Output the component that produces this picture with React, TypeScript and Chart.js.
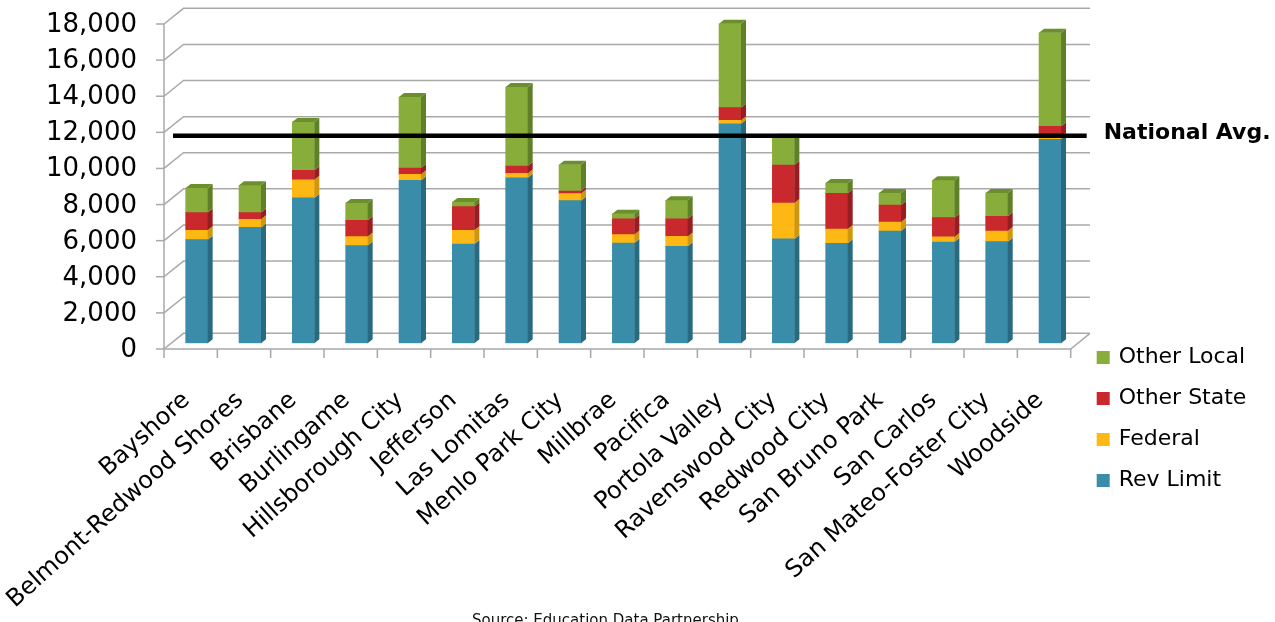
import React, { useEffect, useRef } from "react";
import { Chart, registerables } from "chart.js";

Chart.register(...registerables);

const DISTRICTS = [
  "Bayshore",
  "Belmont-Redwood Shores",
  "Brisbane",
  "Burlingame",
  "Hillsborough City",
  "Jefferson",
  "Las Lomitas",
  "Menlo Park City",
  "Millbrae",
  "Pacifica",
  "Portola Valley",
  "Ravenswood City",
  "Redwood City",
  "San Bruno Park",
  "San Carlos",
  "San Mateo-Foster City",
  "Woodside",
];

const REV_LIMIT = [5740, 6420, 8050, 5410, 9030, 5500, 9170, 7900, 5550, 5370, 12160, 5780, 5540, 6220, 5610, 5630, 11300];
const FEDERAL = [520, 450, 1010, 500, 330, 760, 240, 390, 470, 550, 190, 1990, 790, 500, 280, 590, 150];
const OTHER_STATE = [980, 370, 520, 900, 350, 1310, 410, 140, 880, 980, 700, 2100, 1980, 940, 1070, 810, 570];
const OTHER_LOCAL = [1360, 1510, 2670, 960, 3930, 250, 4370, 1460, 280, 1020, 4650, 1520, 570, 660, 2070, 1290, 5180];

const NATIONAL_AVG = 11500;
const NATIONAL_AVG_LABEL = "National Avg.";
const SOURCE_TEXT = "Source: Education Data Partnership";

const Y_MIN = 0;
const Y_MAX = 18000;
const Y_STEP = 2000;

const FONT = "'DejaVu Sans', sans-serif";
const GRID_COLOR = "#a9a9a9";
const DX = 5;
const DY = -4;

const SERIES = [
  { label: "Rev Limit", data: REV_LIMIT, color: "#3a8da9", side: "#296a80", top: "#2f7a92" },
  { label: "Federal", data: FEDERAL, color: "#fdb813", side: "#d0960c", top: "#e0a510" },
  { label: "Other State", data: OTHER_STATE, color: "#c9282d", side: "#981d21", top: "#ad2227" },
  { label: "Other Local", data: OTHER_LOCAL, color: "#89ad3b", side: "#5f8027", top: "#6c8f2e" },
];

const walls3d = {
  id: "walls3d",
  beforeDatasetsDraw(chart: any) {
    const { ctx, chartArea, scales } = chart;
    const y = scales.y;
    const n = chart.data.labels.length;
    const cat = (chartArea.right - chartArea.left) / n;
    const frontX0 = chartArea.left - 6;
    const frontX1 = chartArea.right - 6;
    const backX0 = chartArea.left + 13.5;
    const backX1 = chartArea.right + 13.3;
    const fOff = 5.7;
    const bOff = -10;
    ctx.save();
    ctx.strokeStyle = GRID_COLOR;
    ctx.lineWidth = 1.5;
    for (let v = Y_MIN; v <= Y_MAX; v += Y_STEP) {
      const yp = y.getPixelForValue(v);
      ctx.beginPath();
      ctx.moveTo(frontX0, yp + fOff);
      ctx.lineTo(backX0, yp + bOff);
      ctx.lineTo(backX1, yp + bOff);
      ctx.stroke();
      ctx.beginPath();
      ctx.moveTo(frontX0 - 8, yp + fOff);
      ctx.lineTo(frontX0, yp + fOff);
      ctx.stroke();
    }
    const yTop = y.getPixelForValue(Y_MAX) + fOff;
    const y0 = y.getPixelForValue(0) + fOff;
    const yb0 = y.getPixelForValue(0) + bOff;
    ctx.beginPath();
    ctx.moveTo(frontX0, yTop);
    ctx.lineTo(frontX0, y0 + 9);
    ctx.stroke();
    ctx.beginPath();
    ctx.moveTo(frontX0, y0);
    ctx.lineTo(frontX1, y0);
    ctx.lineTo(backX1, yb0);
    ctx.stroke();
    for (let i = 1; i <= n; i++) {
      const xp = frontX0 + i * cat;
      ctx.beginPath();
      ctx.moveTo(xp, y0);
      ctx.lineTo(xp, y0 + 9);
      ctx.stroke();
    }
    ctx.restore();
  },
  afterDatasetsDraw(chart: any) {
    const { ctx, chartArea, scales } = chart;
    ctx.save();
    const datasets = chart.data.datasets;
    const metas = datasets.map((_: any, di: number) => chart.getDatasetMeta(di));
    datasets.forEach((ds: any, di: number) => {
      metas[di].data.forEach((el: any) => {
        const { x, y, base, width } = el.getProps(["x", "y", "base", "width"], true);
        const r = x + width / 2;
        ctx.fillStyle = ds.sideColor;
        ctx.beginPath();
        ctx.moveTo(r, y);
        ctx.lineTo(r + DX, y + DY);
        ctx.lineTo(r + DX, base + DY);
        ctx.lineTo(r, base);
        ctx.closePath();
        ctx.fill();
      });
    });
    const n = chart.data.labels.length;
    for (let i = 0; i < n; i++) {
      let topDi = -1;
      datasets.forEach((ds: any, di: number) => {
        if (ds.data[i] > 0) topDi = di;
      });
      if (topDi < 0) continue;
      const el = metas[topDi].data[i];
      const { x, y, width } = el.getProps(["x", "y", "width"], true);
      const l = x - width / 2;
      const r = x + width / 2;
      ctx.fillStyle = datasets[topDi].topColor;
      ctx.beginPath();
      ctx.moveTo(l, y);
      ctx.lineTo(l + DX, y + DY);
      ctx.lineTo(r + DX, y + DY);
      ctx.lineTo(r, y);
      ctx.closePath();
      ctx.fill();
    }
    // national average line
    const ya = scales.y.getPixelForValue(NATIONAL_AVG);
    ctx.strokeStyle = "#000";
    ctx.lineWidth = 4.5;
    ctx.beginPath();
    ctx.moveTo(chartArea.left + 3, ya);
    ctx.lineTo(chartArea.right + 10, ya);
    ctx.stroke();
    ctx.fillStyle = "#000";
    ctx.font = `bold 22px ${FONT}`;
    ctx.textAlign = "left";
    ctx.textBaseline = "middle";
    ctx.fillText(NATIONAL_AVG_LABEL, chartArea.right + 27, ya - 2);
    ctx.restore();
  },
  afterDraw(chart: any) {
    const { ctx, chartArea } = chart;
    ctx.save();
    // legend (reverse order: top of stack first)
    const items = [...chart.data.datasets].reverse();
    ctx.font = `22px ${FONT}`;
    ctx.textAlign = "left";
    ctx.textBaseline = "middle";
    items.forEach((ds: any, k: number) => {
      const cy = 357.5 + k * 41;
      const sx = chartArea.right + 20;
      ctx.fillStyle = ds.backgroundColor;
      ctx.fillRect(sx, cy - 6.5, 13, 13);
      ctx.fillStyle = "#000";
      ctx.fillText(ds.label, sx + 22, cy);
    });
    // source note
    ctx.font = `15px ${FONT}`;
    ctx.textBaseline = "alphabetic";
    ctx.fillStyle = "#111";
    ctx.fillText(SOURCE_TEXT, 472, 625);
    ctx.restore();
  },
};

export default function App() {
  const ref = useRef<HTMLCanvasElement>(null);
  useEffect(() => {
    const canvas = ref.current;
    if (!canvas) return;
    const chart = new Chart(canvas, {
      type: "bar",
      data: {
        labels: DISTRICTS,
        datasets: SERIES.map((s) => ({
          label: s.label,
          data: s.data,
          backgroundColor: s.color,
          sideColor: s.side,
          topColor: s.top,
          stack: "total",
          barThickness: 22,
          borderWidth: 0,
        })) as any,
      },
      options: {
        responsive: false,
        animation: false,
        events: [],
        devicePixelRatio: 1,
        layout: { padding: { left: 10, right: 198.3, top: 18.3, bottom: 0 } },
        plugins: {
          legend: { display: false },
          tooltip: { enabled: false },
          title: { display: false },
        },
        scales: {
          x: {
            stacked: true,
            grid: { display: false, drawTicks: false },
            border: { display: false },
            ticks: {
              autoSkip: false,
              minRotation: 42,
              maxRotation: 42,
              padding: 43,
              labelOffset: -10,
              color: "#000",
              font: { family: FONT, size: 24 },
            },
            afterFit: (scale: any) => {
              scale.height = 622 - 343.3;
              scale.paddingLeft = 0;
              scale.paddingRight = 0;
            },
          },
          y: {
            stacked: true,
            min: Y_MIN,
            max: Y_MAX,
            grid: { display: false, drawTicks: false },
            border: { display: false },
            ticks: {
              stepSize: Y_STEP,
              padding: 33,
              labelOffset: 7,
              color: "#000",
              font: { family: FONT, size: 26 },
              callback: (v: any) => Number(v).toLocaleString("en-US"),
            },
            afterFit: (scale: any) => {
              scale.width = 160;
              scale.paddingTop = 0;
              scale.paddingBottom = 0;
            },
          },
        },
      } as any,
      plugins: [walls3d],
    });
    return () => chart.destroy();
  }, []);
  return (
    <div
      style={{
        position: "fixed",
        left: 0,
        top: 0,
        width: 1275,
        height: 622,
        overflow: "hidden",
        background: "#fff",
      }}
    >
      <canvas ref={ref} width={1275} height={622} style={{ display: "block" }} />
    </div>
  );
}
